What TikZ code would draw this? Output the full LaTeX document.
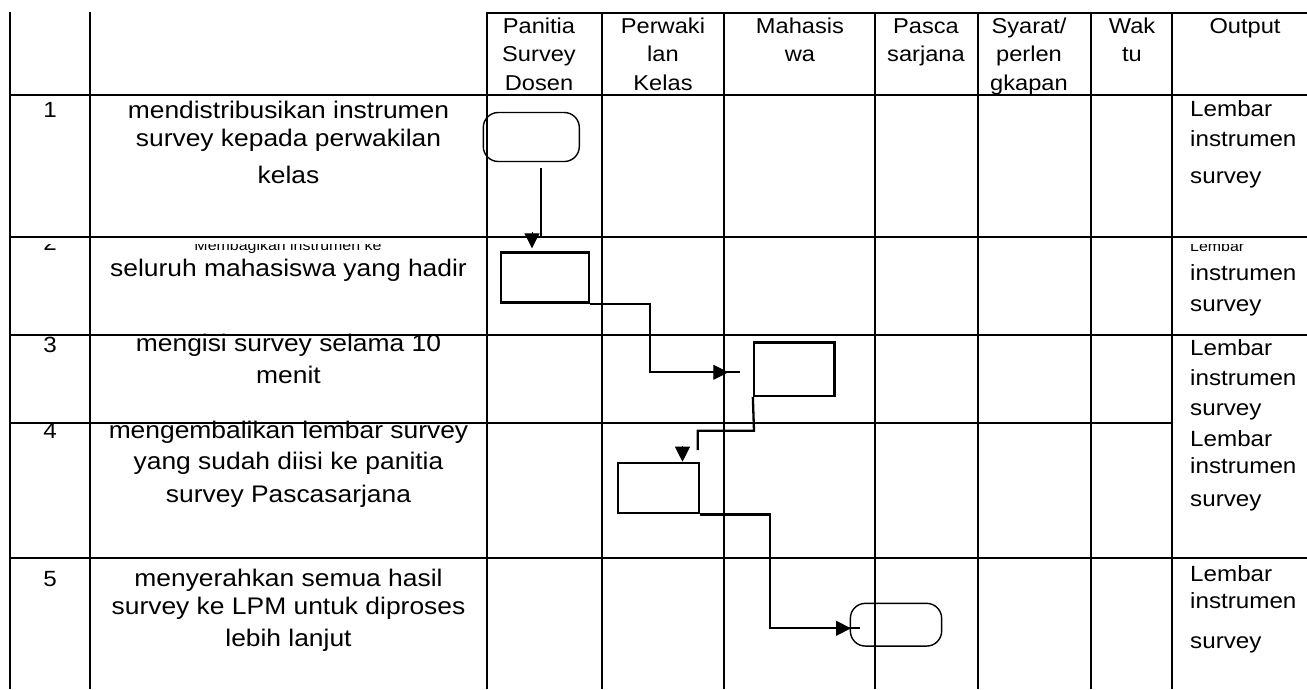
\documentclass[tikz,border=0pt]{standalone}
\usepackage{fontspec}
\setmainfont{Liberation Sans}[FakeStretch=1.1]
\usetikzlibrary{arrows.meta}

\begin{document}
\begin{tikzpicture}[x=1pt,y=-1pt,
  tabline/.style={line width=2.7pt},
  conn/.style={line width=2.3pt},
  proc/.style={draw,line width=2.3pt,inner sep=0pt},
  term/.style={draw,line width=1.4pt,rounded corners=15pt,inner sep=0pt},
  arrowhd/.style={-{Triangle[length=15pt,width=15pt]},line width=1pt},
  hdr/.style={anchor=base,inner sep=0pt,font=\fontsize{21.5}{26}\selectfont},
  num/.style={anchor=base,inner sep=0pt,font=\fontsize{22}{26}\selectfont},
  desc/.style={anchor=base,inner sep=0pt,font=\fontsize{24}{28}\selectfont},
  outp/.style={anchor=base west,inner sep=0pt,font=\fontsize{22}{26}\selectfont},
  smalltxt/.style={inner sep=0pt,font=\fontsize{14.5}{17}\selectfont}]
\useasboundingbox (0,0) rectangle (1307,689);

% table lines
\foreach \x in {10,90,487,602,724,875,978,1091,1172} \draw[tabline] (\x,12) -- (\x,689);
\draw[tabline] (487,13) -- (1307,13);
\foreach \y in {95,237,335,558} \draw[tabline] (10,\y) -- (1307,\y);
\draw[tabline] (10,423) -- (1172,423);

% header
\foreach \y/\t [count=\i] in {33.5/Panitia,61.5/Survey,90/Dosen} \node[hdr] (pan\i) at (539,\y) {\t};
\foreach \y/\t [count=\i] in {33.5/Perwaki,61.5/lan,90/Kelas} \node[hdr] (per\i) at (663,\y) {\t};
\foreach \y/\t [count=\i] in {33.5/Mahasis,61.5/wa} \node[hdr] (mhs\i) at (800,\y) {\t};
\foreach \y/\t [count=\i] in {33.5/Pasca,61.5/sarjana} \node[hdr] (pas\i) at (926,\y) {\t};
\foreach \y/\t [count=\i] in {33.5/{Syarat/},61.5/perlen,90/gkapan} \node[hdr] (sya\i) at (1029,\y) {\t};
\foreach \y/\t [count=\i] in {33.5/Wak,61.5/tu} \node[hdr] (wak\i) at (1132,\y) {\t};
\node[hdr] (outhd) at (1245,33.5) {Output};

% nomor
\foreach \y/\t in {117.3/1,352/3,438.3/4,586.7/5} \node[num] (no\t) at (50,\y) {\t};

% kegiatan
\foreach \y/\t [count=\i] in {118.3/mendistribusikan instrumen,146.7/survey kepada perwakilan,183.3/kelas}
  \node[desc] (ka\i) at (288.5,\y) {\t};
\node[desc] (kb2) at (288.5,276.7) {seluruh mahasiswa yang hadir};
\foreach \y/\t [count=\i] in {351.7/mengisi survey selama 10,383/menit}
  \node[desc] (kc\i) at (288.5,\y) {\t};
\foreach \y/\t [count=\i] in {438.8/mengembalikan lembar survey,469/yang sudah diisi ke panitia,502/survey Pascasarjana}
  \node[desc] (kd\i) at (288.5,\y) {\t};
\foreach \y/\t [count=\i] in {586.7/menyerahkan semua hasil,614/survey ke LPM untuk diproses,646.7/lebih lanjut}
  \node[desc] (ke\i) at (288.5,\y) {\t};

% output
\foreach \y/\t [count=\i] in {116.7/Lembar,146.7/instrumen,183.3/survey} \node[outp] (oa\i) at (1190,\y) {\t};
\foreach \y/\t [count=\i] in {280/instrumen,311.7/survey} \node[outp] (ob\i) at (1190,\y) {\t};
\foreach \y/\t [count=\i] in {355/Lembar,385/instrumen,415/survey} \node[outp] (oc\i) at (1190,\y) {\t};
\foreach \y/\t [count=\i] in {446.7/Lembar,473.3/instrumen,506.7/survey} \node[outp] (od\i) at (1190,\y) {\t};
\foreach \y/\t [count=\i] in {581.7/Lembar,608.3/instrumen,648/survey} \node[outp] (oe\i) at (1190,\y) {\t};

% baris 2, teks terpotong di atas
\begin{scope}
\clip (10,244) rectangle (1307,333);
\node[num] (no2) at (50,250) {2};
\node[smalltxt,anchor=base] (kb1) at (288,250.7) {Membagikan instrumen ke};
\node[smalltxt,anchor=base west] (ob0) at (1190,251.7) {Lembar};
\end{scope}

% simbol alur
\node[term,minimum width=96pt,minimum height=49pt] (t1) at (531.3,137) {};
\node[proc,minimum width=88.6pt,minimum height=50pt] (b2) at (545,277.5) {};
\node[proc,minimum width=80.4pt,minimum height=53.5pt] (b3) at (794.2,369.3) {};
\node[proc,minimum width=81pt,minimum height=50.6pt] (b4) at (658.2,488) {};
\node[term,minimum width=91.3pt,minimum height=42.7pt] (t5) at (896,624.7) {};

% alur
\coordinate (c1) at (540.7,168.3);
\draw[conn] (c1) -- (540.7,236.5);
\draw[arrowhd] (532,232) -- (532,248.3);
\draw[conn] (b2.south east) -| (650,372.3) -- (739.5,372.3);
\draw[arrowhd] (712,372.3) -- (728.3,372.3);
\draw[conn] (b3.south west) -- (754,430.7) -- (697.7,430.7) -- (697.7,450);
\draw[arrowhd] (682.5,446) -- (682.5,461.7);
\draw[conn] (b4.south east) -| (770,628.3) -- (859.5,628.3);
\draw[arrowhd] (834,628.3) -- (851,628.3);
\end{tikzpicture}
\end{document}
